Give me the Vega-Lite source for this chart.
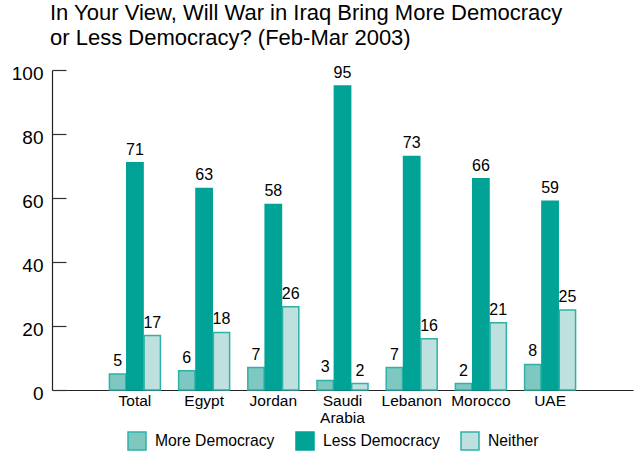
{
  "$schema": "https://vega.github.io/schema/vega-lite/v6.json",
  "width": 581,
  "height": 320,
  "autosize": {"type": "none"},
  "padding": {"left": 52, "top": 70, "right": 4, "bottom": 62},
  "background": "white",
  "title": {
    "text": ["In Your View, Will War in Iraq Bring More Democracy", "or Less Democracy? (Feb-Mar 2003)"],
    "anchor": "start",
    "frame": "group",
    "dx": -2,
    "offset": 14,
    "font": "Liberation Sans",
    "fontSize": 22,
    "fontWeight": "normal",
    "color": "#000000",
    "lineHeight": 25
  },
  "config": {
    "view": {"stroke": null},
    "font": "Liberation Sans"
  },
  "data": {
    "values": [
      {"country": "Total", "response": "More Democracy", "value": 5},
      {"country": "Total", "response": "Less Democracy", "value": 71},
      {"country": "Total", "response": "Neither", "value": 17},
      {"country": "Egypt", "response": "More Democracy", "value": 6},
      {"country": "Egypt", "response": "Less Democracy", "value": 63},
      {"country": "Egypt", "response": "Neither", "value": 18},
      {"country": "Jordan", "response": "More Democracy", "value": 7},
      {"country": "Jordan", "response": "Less Democracy", "value": 58},
      {"country": "Jordan", "response": "Neither", "value": 26},
      {"country": "Saudi Arabia", "response": "More Democracy", "value": 3},
      {"country": "Saudi Arabia", "response": "Less Democracy", "value": 95},
      {"country": "Saudi Arabia", "response": "Neither", "value": 2},
      {"country": "Lebanon", "response": "More Democracy", "value": 7},
      {"country": "Lebanon", "response": "Less Democracy", "value": 73},
      {"country": "Lebanon", "response": "Neither", "value": 16},
      {"country": "Morocco", "response": "More Democracy", "value": 2},
      {"country": "Morocco", "response": "Less Democracy", "value": 66},
      {"country": "Morocco", "response": "Neither", "value": 21},
      {"country": "UAE", "response": "More Democracy", "value": 8},
      {"country": "UAE", "response": "Less Democracy", "value": 59},
      {"country": "UAE", "response": "Neither", "value": 25}
    ]
  },
  "encoding": {
    "x": {
      "field": "country",
      "type": "nominal",
      "sort": ["Total", "Egypt", "Jordan", "Saudi Arabia", "Lebanon", "Morocco", "UAE"],
      "scale": {"paddingInner": 0.263, "paddingOuter": 0.83},
      "axis": {
        "title": null,
        "ticks": false,
        "labelAngle": 0,
        "labelFontSize": 15.5,
        "labelColor": "#000000",
        "labelPadding": 3,
        "labelExpr": "split(datum.label, ' ')",
        "labelLineHeight": 17,
        "domainColor": "#222222",
        "domainWidth": 1.2
      }
    },
    "xOffset": {
      "field": "response",
      "sort": ["More Democracy", "Less Democracy", "Neither"],
      "scale": {"paddingInner": 0.06}
    },
    "y": {
      "field": "value",
      "type": "quantitative",
      "scale": {"domain": [0, 100]},
      "axis": {
        "title": null,
        "grid": false,
        "values": [0, 20, 40, 60, 80, 100],
        "tickSize": -14,
        "tickColor": "#333333",
        "tickWidth": 1.2,
        "domainColor": "#222222",
        "domainWidth": 1.2,
        "labelFontSize": 19,
        "labelColor": "#000000",
        "labelPadding": 23,
        "labelOffset": 3
      }
    }
  },
  "layer": [
    {
      "mark": {"type": "bar", "strokeWidth": 1.5},
      "encoding": {
        "fill": {
          "field": "response",
          "type": "nominal",
          "sort": ["More Democracy", "Less Democracy", "Neither"],
          "scale": {
            "domain": ["More Democracy", "Less Democracy", "Neither"],
            "range": ["#7ec8c1", "#00a396", "#bee0de"]
          },
          "legend": {
            "title": null,
            "orient": "none",
            "direction": "horizontal",
            "legendX": 75,
            "legendY": 361,
            "symbolType": "square",
            "symbolSize": 324,
            "symbolStrokeWidth": 1.5,
            "labelFontSize": 15.7,
            "labelColor": "#000000",
            "labelOffset": 8,
            "columnPadding": 18
          }
        },
        "stroke": {
          "field": "response",
          "type": "nominal",
          "sort": ["More Democracy", "Less Democracy", "Neither"],
          "scale": {
            "domain": ["More Democracy", "Less Democracy", "Neither"],
            "range": ["#2fb1a6", "#00a396", "#2fb1a6"]
          },
          "legend": null
        }
      }
    },
    {
      "mark": {"type": "text", "baseline": "alphabetic", "dy": -8, "fontSize": 16, "color": "#000000"},
      "encoding": {
        "text": {"field": "value", "type": "quantitative"}
      }
    }
  ]
}
